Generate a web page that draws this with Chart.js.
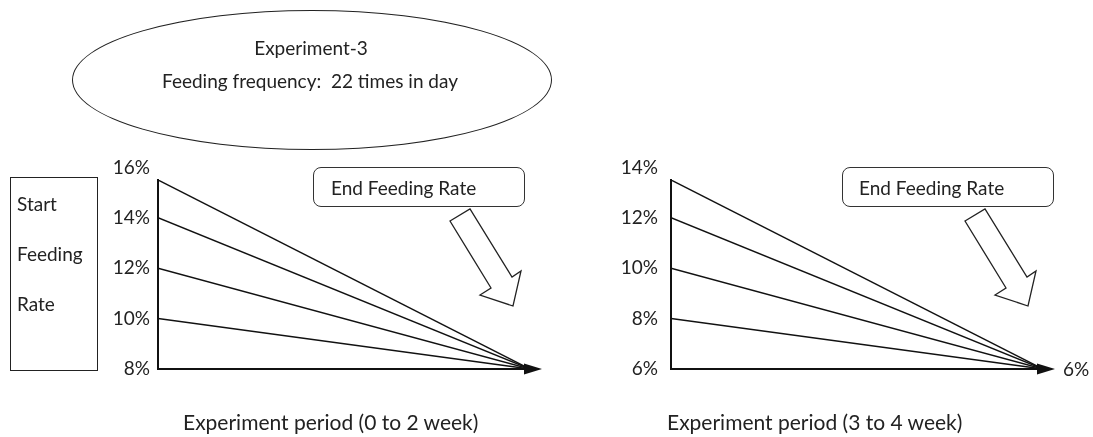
<!DOCTYPE html>
<html>
<head>
<meta charset="utf-8">
<script src="https://cdn.jsdelivr.net/npm/chart.js@4/dist/chart.umd.min.js"></script>
<style>
  body { margin: 0; background: #fff; width: 1093px; height: 437px; position: relative; overflow: hidden;
         font-family: Lato, "Open Sans", sans-serif; color: #222; }
  canvas { position: absolute; top: 0; }
  .txt { position: absolute; font-size: 19px; white-space: pre; line-height: 1; }
  .big { font-size: 21px; }
  .ellipse { position: absolute; left: 72px; top: 10px; width: 480px; height: 140px; box-sizing: border-box;
             border: 1.5px solid #222; border-radius: 50%; }
  .startBox { position: absolute; left: 10px; top: 177px; width: 88px; height: 194px; box-sizing: border-box;
              border: 1.5px solid #222; }
  .endBox { position: absolute; top: 167px; width: 212px; height: 40px; box-sizing: border-box;
            border: 1.5px solid #333; border-radius: 8px; }
  svg { position: absolute; left: 0; top: 0; }
</style>
</head>
<body>

<canvas id="chart1" width="546" height="437" style="left:0px"></canvas>
<canvas id="chart2" width="547" height="437" style="left:546px"></canvas>

<!-- title ellipse -->
<div class="ellipse"></div>
<div class="txt" id="titleTop" style="left:311px; top:38px; transform:translateX(-50%)"></div>
<div class="txt" id="titleSub" style="left:310px; top:71px; transform:translateX(-50%)"></div>

<!-- start feeding rate box -->
<div class="startBox"></div>
<div class="txt" style="left:17px; top:194px">Start</div>
<div class="txt" style="left:17px; top:244px">Feeding</div>
<div class="txt" style="left:17px; top:294px">Rate</div>

<!-- end feeding rate boxes -->
<div class="endBox" style="left:313px"></div>
<div class="txt" style="left:331px; top:178px">End Feeding Rate</div>
<div class="endBox" style="left:842px"></div>
<div class="txt" style="left:859px; top:178px">End Feeding Rate</div>

<!-- hollow arrows -->
<svg width="1093" height="437">
  <polygon points="450,221 470,209 512,277 521,271 513,306 480,295 491,288" fill="#fff" stroke="#222" stroke-width="1.3"/>
  <polygon points="965,221 985,209 1027,277 1036,271 1028,306 995,295 1006,288" fill="#fff" stroke="#222" stroke-width="1.3"/>
</svg>

<!-- x axis titles -->
<div class="txt big" id="period1" style="left:183px; top:411px"></div>
<div class="txt big" id="period2" style="left:667px; top:411px"></div>

<script>
// ---- data ----
const titleLines = ['Experiment-3', 'Feeding frequency:  22 times in day'];
const periodLabels = ['Experiment period (0 to 2 week)', 'Experiment period (3 to 4 week)'];

// first period: start rates fan in to the end rate
const startRates1 = [10, 12, 14, 15.5];
const endRate1 = 8;
const yTicks1 = [8, 10, 12, 14, 16];

// second period
const startRates2 = [8, 10, 12, 13.5];
const endRate2 = 6;
const yTicks2 = [6, 8, 10, 12, 14];

const periodX = [0, 1]; // start / end of period

document.getElementById('titleTop').textContent = titleLines[0];
document.getElementById('titleSub').textContent = titleLines[1];
document.getElementById('period1').textContent = periodLabels[0];
document.getElementById('period2').textContent = periodLabels[1];

const FONT = { family: 'Lato, "Open Sans", sans-serif', size: 19 };
const TEXT = '#222';

// arrowhead at the end of x axis + the end rate label
const axisArrow = {
  id: 'axisArrow',
  afterDraw(chart, args, opts) {
    const ctx = chart.ctx;
    const a = chart.chartArea;
    const y = chart.scales.y.getPixelForValue(opts.endRate);
    ctx.save();
    ctx.fillStyle = '#111';
    ctx.beginPath();
    ctx.moveTo(a.right - 6, y - 5.5);
    ctx.lineTo(a.right + 12, y);
    ctx.lineTo(a.right - 6, y + 5.5);
    ctx.closePath();
    ctx.fill();
    ctx.font = FONT.size + 'px ' + FONT.family;
    ctx.fillStyle = TEXT;
    ctx.textBaseline = 'middle';
    ctx.textAlign = 'left';
    ctx.fillText(opts.endRate + '%', a.right + 20, y + 1);
    ctx.restore();
  }
};

function makeChart(id, starts, end, ticks, padLeft, padRight, labelGap) {
  const datasets = starts.map(s => ({
    data: [{ x: periodX[0], y: s }, { x: periodX[1], y: end }],
    borderColor: '#111',
    borderWidth: 1.5,
    pointRadius: 0,
    fill: false
  }));
  return new Chart(document.getElementById(id), {
    type: 'line',
    data: { datasets: datasets },
    options: {
      responsive: false,
      animation: false,
      layout: { padding: { left: padLeft, right: padRight, top: 180, bottom: 437 - 369 } },
      scales: {
        x: {
          type: 'linear',
          min: periodX[0],
          max: periodX[1],
          grid: { display: false, drawTicks: false },
          ticks: { display: false },
          border: { color: '#111', width: 2 },
          afterFit: s => { s.height = 0; }
        },
        y: {
          min: end,
          max: Math.max(...starts),
          grid: { display: false, drawTicks: false },
          border: { color: '#111', width: 2 },
          ticks: {
            color: TEXT,
            font: FONT,
            padding: labelGap,
            callback: v => v + '%'
          },
          afterBuildTicks: s => { s.ticks = ticks.map(v => ({ value: v })); },
          afterFit: s => { s.width = 50; }
        }
      },
      plugins: {
        legend: { display: false },
        tooltip: { enabled: false },
        axisArrow: { endRate: end }
      }
    },
    plugins: [axisArrow]
  });
}

makeChart('chart1', startRates1, endRate1, yTicks1, 108, 16, 8);
makeChart('chart2', startRates2, endRate2, yTicks2, 75, 50, 13);
</script>
</body>
</html>
